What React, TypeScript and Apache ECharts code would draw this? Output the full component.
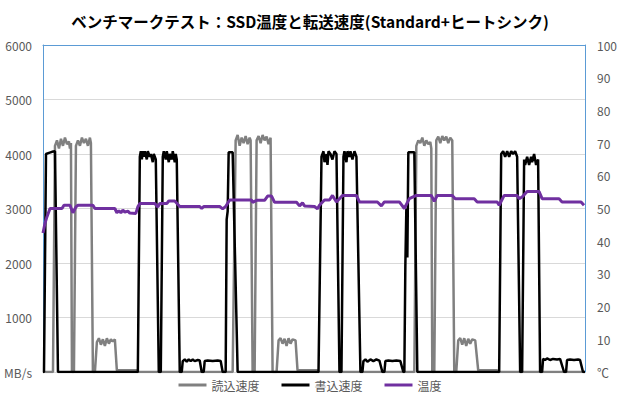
import React, { useEffect, useRef } from "react";
import * as echarts from "echarts";

const titleText = "ベンチマークテスト：SSD温度と転送速度(Standard+ヒートシンク)";
const seriesNames = ["読込速度", "書込速度", "温度"];
const speedTicks = [0, 1000, 2000, 3000, 4000, 5000, 6000];
const tempTicks = [0, 10, 20, 30, 40, 50, 60, 70, 80, 90, 100];

// [time, MB/s]
const readSpeed: [number, number][] = [
  [0, 0], [10, 0], [12, 4150], [14, 4250], [16, 4100], [18, 4280], [20, 4150], [22, 4300], [24, 4180], [26, 4230], [27, 4100], [28, 4200],
  [29, 0], [31, 0], [33, 4150], [35, 4250], [37, 4150], [39, 4300], [41, 4200], [43, 4280], [45, 4150], [47, 4300], [48, 4200],
  [50, 0], [52, 0], [54, 550], [56, 620], [58, 500], [60, 600], [62, 480], [64, 620], [66, 520], [68, 600], [70, 560], [72, 600],
  [74, 30], [94, 30], [95, 0],
  [190, 0], [193, 4250], [195, 4350], [197, 4150], [199, 4300], [201, 4200], [203, 4330], [205, 4180], [207, 4300], [208, 4250],
  [210, 0], [212, 0], [214, 4250], [216, 4330], [218, 4200], [220, 4350], [222, 4250], [224, 4320], [226, 4180], [228, 4300],
  [230, 0], [234, 0], [236, 580], [238, 620], [240, 520], [242, 610], [244, 480], [246, 620], [248, 520], [250, 600], [253, 580],
  [255, 30], [275, 30], [276, 0],
  [372, 0], [374, 4150], [376, 4250], [378, 4200], [380, 4300], [382, 4150], [384, 4250], [386, 4180], [388, 4220], [389, 4100],
  [390, 0], [392, 0], [394, 4250], [396, 4320], [398, 4200], [400, 4330], [402, 4250], [404, 4320], [406, 4200], [408, 4300], [410, 4250],
  [412, 0], [414, 0], [416, 580], [418, 620], [420, 500], [422, 620], [424, 480], [426, 610], [428, 520], [430, 600], [433, 580],
  [436, 30], [455, 30], [456, 0], [543, 0],
];

const writeSpeed: [number, number][] = [
  [0, 0], [1, 0], [3, 4000], [6, 4020], [9, 4040], [12, 4050], [15, 0],
  [95, 0], [97, 3950], [98, 4050], [99, 3900], [100, 4050], [101, 3950], [102, 4050], [104, 3900], [105, 4050], [107, 3950], [108, 4000], [110, 3850], [111, 4000], [113, 3900],
  [116, 0], [118, 0], [120, 3950], [121, 4050], [123, 3900], [124, 4050], [126, 3850], [127, 4000], [129, 3900], [130, 4050], [132, 3850], [133, 4000], [134, 3900],
  [137, 0], [139, 0], [140, 200], [142, 230], [144, 190], [146, 230], [148, 200], [150, 230], [152, 200], [155, 220], [157, 210],
  [159, 0], [161, 0], [162, 200], [165, 210], [170, 200], [175, 210], [178, 200], [180, 0],
  [183, 0], [184, 2800], [185, 2950], [186, 4030], [190, 4030], [195, 0],
  [276, 0], [279, 3950], [281, 4050], [282, 3850], [284, 4000], [285, 3800], [286, 4050], [288, 4000], [290, 3900], [292, 4050], [294, 4000],
  [297, 0], [299, 0], [301, 3950], [302, 4050], [304, 3850], [305, 4050], [307, 3950], [308, 4050], [310, 3900], [312, 4050], [314, 3950],
  [318, 0], [320, 0], [321, 200], [323, 230], [325, 190], [328, 230], [331, 200], [334, 230], [337, 210],
  [340, 0], [342, 0], [343, 200], [346, 210], [350, 200], [354, 210], [358, 200], [361, 0],
  [362, 0], [363, 1950], [364, 3000], [365, 2100], [366, 4030], [372, 4030], [375, 0],
  [457, 0], [459, 4000], [461, 4050], [463, 3950], [465, 4050], [467, 3950], [469, 4050], [471, 4000], [473, 4050], [475, 3950],
  [478, 0], [480, 0], [482, 3900], [483, 3800], [485, 3950], [487, 3800], [489, 3950], [490, 3850], [492, 4000], [494, 3800], [496, 3900],
  [498, 0], [500, 0], [501, 240], [503, 220], [505, 250], [508, 220], [511, 240], [515, 230], [518, 240],
  [522, 0], [524, 0], [525, 220], [528, 230], [532, 220], [536, 230], [538, 220], [541, 0], [543, 0],
];

// [time, ℃]
const temperature: [number, number][] = [
  [0, 42.5], [2, 45.5], [4, 47.5], [7, 50], [19, 50], [21, 51], [27, 51], [30, 48.7], [33, 50.5], [35, 51], [50, 51],
  [52, 50], [72, 50], [74, 48.7], [76, 49.3], [78, 48.7], [80, 49.5], [82, 48.9], [85, 49.2], [87, 48.6], [93, 48.5],
  [95, 50.5], [97, 51.5], [112, 51.5], [115, 50.5], [117, 51.5], [124, 51.5], [126, 52.3], [132, 52.3], [137, 50.6],
  [157, 50.6], [159, 50], [161, 50.6], [177, 50.6], [180, 49.9], [183, 50.6], [187, 52.6], [209, 52.6], [210, 51.9],
  [214, 52.5], [222, 52.5], [225, 53.8], [229, 53.8], [232, 51.9], [254, 51.9], [257, 50.8], [260, 51.7], [262, 50.8],
  [272, 50.6], [275, 49.9], [277, 51], [282, 52.6], [287, 52.6], [290, 54], [294, 52], [297, 53], [300, 54], [314, 54],
  [317, 52], [335, 52], [339, 50.8], [342, 52], [357, 52], [362, 50], [367, 53], [374, 54], [389, 54], [392, 52.2],
  [395, 54], [410, 54], [413, 53], [432, 53], [435, 52], [455, 52], [457, 51], [462, 54], [475, 54], [477, 53],
  [480, 53.5], [485, 55.2], [497, 55.2], [500, 53], [517, 53], [520, 52], [539, 52], [542, 51],
];

const FONT = "'Noto Sans CJK JP', 'Noto Sans', sans-serif";
const AXIS_BLUE = "#5b9bd5";

export default function App() {
  const ref = useRef<HTMLDivElement>(null);
  useEffect(() => {
    if (!ref.current) return;
    const chart = echarts.init(ref.current, undefined, { renderer: "svg" });
    chart.setOption({
      animation: false,
      backgroundColor: "#ffffff",
      textStyle: { fontFamily: FONT },
      title: {
        text: titleText,
        left: "center",
        top: 8,
        textStyle: { fontFamily: FONT, fontSize: 15.5, fontWeight: "bold", color: "#000" },
      },
      legend: {
        bottom: 4,
        left: "center",
        icon: "rect",
        itemWidth: 28,
        itemHeight: 3,
        itemGap: 22,
        textStyle: { fontFamily: FONT, fontSize: 12, color: "#595959" },
        data: seriesNames,
      },
      grid: { left: 43, right: 34, top: 45, bottom: 28 },
      xAxis: [
        {
          type: "value",
          position: "bottom",
          min: 0,
          max: 543,
          axisLabel: { show: false },
          axisTick: { show: false },
          splitLine: { show: false },
          axisLine: { show: true, onZero: false, lineStyle: { color: "#bfbfbf", width: 1 } },
        },
        {
          type: "value",
          position: "top",
          min: 0,
          max: 543,
          z: 5,
          axisLabel: { show: false },
          axisTick: { show: false },
          splitLine: { show: false },
          axisLine: { show: true, onZero: false, lineStyle: { color: AXIS_BLUE, width: 1 } },
        },
      ],
      yAxis: [
        {
          type: "value",
          min: speedTicks[0],
          max: speedTicks[speedTicks.length - 1],
          interval: 1000,
          z: 1,
          axisLine: { show: true, onZero: false, lineStyle: { color: AXIS_BLUE, width: 1 } },
          axisTick: { show: false },
          splitLine: { show: true, lineStyle: { color: "#d9d9d9", width: 1 } },
          axisLabel: {
            margin: 11,
            fontSize: 12,
            color: "#595959",
            fontFamily: FONT,
            formatter: (v: number) => (v === 0 ? "MB/s" : String(v)),
          },
        },
        {
          type: "value",
          position: "right",
          min: tempTicks[0],
          max: tempTicks[tempTicks.length - 1],
          interval: 10,
          axisLine: { show: true, onZero: false, lineStyle: { color: AXIS_BLUE, width: 1 } },
          axisTick: { show: false },
          splitLine: { show: false },
          axisLabel: {
            margin: 12,
            fontSize: 12,
            color: "#595959",
            fontFamily: FONT,
            formatter: (v: number) => (v === 0 ? "℃" : String(v)),
          },
        },
      ],
      series: [
        {
          name: seriesNames[0],
          type: "line",
          xAxisIndex: 0,
          yAxisIndex: 0,
          data: readSpeed,
          showSymbol: false,
          symbol: "none",
          itemStyle: { color: "#808080" },
          lineStyle: { color: "#808080", width: 2.5 },
          z: 2,
        },
        {
          name: seriesNames[1],
          type: "line",
          xAxisIndex: 0,
          yAxisIndex: 0,
          data: writeSpeed,
          showSymbol: false,
          symbol: "none",
          itemStyle: { color: "#000000" },
          lineStyle: { color: "#000000", width: 2.5 },
          z: 3,
        },
        {
          name: seriesNames[2],
          type: "line",
          xAxisIndex: 0,
          yAxisIndex: 1,
          data: temperature,
          showSymbol: false,
          symbol: "none",
          itemStyle: { color: "#7030a0" },
          lineStyle: { color: "#7030a0", width: 3 },
          z: 4,
        },
      ],
    });
    return () => chart.dispose();
  }, []);
  return (
    <div
      ref={ref}
      style={{ position: "fixed", left: 0, top: 0, width: 620, height: 400, background: "#fff" }}
    />
  );
}
